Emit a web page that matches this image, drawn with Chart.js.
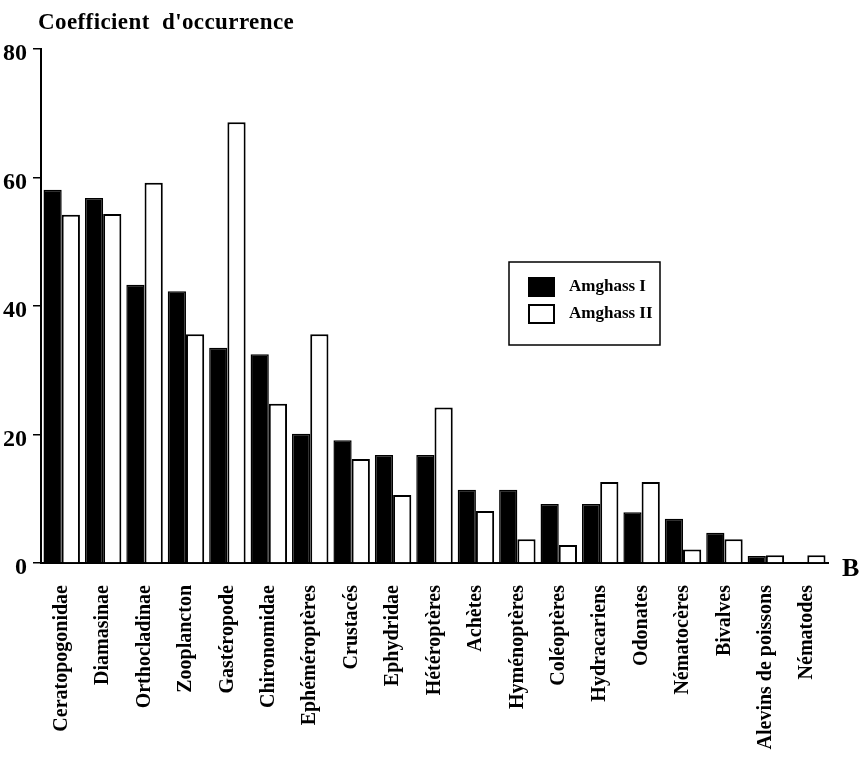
<!DOCTYPE html>
<html>
<head>
<meta charset="utf-8">
<script src="https://cdn.jsdelivr.net/npm/chart.js@4"></script>
<style>
  body { margin: 0; background: #fff; }
  #wrap { width: 864px; height: 760px; }
</style>
</head>
<body>
<div id="wrap"><canvas id="grafica"></canvas></div>
<script>
const categories = ['Ceratopogonidae', 'Diamasinae', 'Orthocladinae', 'Zooplancton', 'Gastéropode',
    'Chironomidae', 'Ephéméroptères', 'Crustacés', 'Ephydridae', 'Hétéroptères', 'Achètes',
    'Hyménoptères', 'Coléoptères', 'Hydracariens', 'Odonates', 'Nématocères', 'Bivalves',
    'Alevins de poissons', 'Nématodes'];
const amghass1 = [58.1, 56.8, 43.3, 42.3, 33.5, 32.5, 20.1, 19.1, 16.8, 16.8, 11.4, 11.4, 9.2, 9.2, 7.9, 6.9, 4.7, 1.1, 0];
const amghass2 = [54.2, 54.3, 59.2, 35.6, 68.6, 24.8, 35.6, 16.2, 10.6, 24.2, 8.1, 3.7, 2.8, 12.6, 12.6, 2.1, 3.7, 1.2, 1.2];
const yTicks = [0, 20, 40, 60, 80];

const serif = "'Liberation Serif', 'DejaVu Serif', serif";

// titre, lettre B et légende dessinés à la main
const decor = {
    id: 'decor',
    afterDraw(chart) {
        const ctx = chart.ctx;
        ctx.save();
        ctx.fillStyle = '#000';
        ctx.textBaseline = 'alphabetic';
        ctx.font = 'bold 23px ' + serif;
        ctx.letterSpacing = '0.4px';
        ctx.fillText("Coefficient  d'occurrence", 38, 29);
        ctx.letterSpacing = '0px';
        ctx.font = 'bold 26px ' + serif;
        ctx.fillText('B', 842, 576);

        // légende
        ctx.strokeStyle = '#000';
        ctx.lineWidth = 1.5;
        ctx.strokeRect(509, 262, 151, 83);
        const sets = chart.data.datasets;
        sets.forEach((ds, i) => {
            const y = 278 + i * 27;
            ctx.fillStyle = ds.backgroundColor;
            ctx.fillRect(529, y, 25, 18);
            ctx.lineWidth = 2;
            ctx.strokeRect(529, y, 25, 18);
            ctx.fillStyle = '#000';
            ctx.font = 'bold 17px ' + serif;
            ctx.textBaseline = 'middle';
            ctx.fillText(ds.label, 569, y + 9);
        });
        ctx.restore();
    }
};

new Chart(document.getElementById('grafica'), {
    type: 'bar',
    data: {
        labels: categories,
        datasets: [
            {
                label: 'Amghass I',
                data: amghass1,
                backgroundColor: '#000',
                borderColor: '#000',
                borderWidth: 1.5
            },
            {
                label: 'Amghass II',
                data: amghass2,
                backgroundColor: '#fff',
                borderColor: '#000',
                borderWidth: 2
            }
        ]
    },
    options: {
        responsive: true,
        maintainAspectRatio: false,
        animation: false,
        layout: { padding: { top: 49, right: 36, left: 0, bottom: 0 } },
        datasets: { bar: { categoryPercentage: 0.88, barPercentage: 1.0 } },
        plugins: {
            legend: false,
            tooltip: { enabled: false }
        },
        scales: {
            x: {
                grid: { display: false },
                border: { display: true, color: '#000', width: 2 },
                ticks: {
                    color: '#000',
                    font: { family: serif, size: 20, weight: 'bold' },
                    minRotation: 90,
                    maxRotation: 90,
                    autoSkip: false,
                    padding: 14
                },
                afterFit(scale) { scale.height = 197; }
            },
            y: {
                min: 0,
                max: 80,
                afterBuildTicks(scale) { scale.ticks = yTicks.map(v => ({ value: v })); },
                grid: { drawOnChartArea: false, drawTicks: true, tickLength: 8, color: '#000', lineWidth: 1.5 },
                border: { display: true, color: '#000', width: 2 },
                ticks: {
                    color: '#000',
                    font: { family: serif, size: 24, weight: 'bold' },
                    padding: 6,
                    labelOffset: 5
                },
                afterFit(scale) { scale.width = 41; }
            }
        }
    },
    plugins: [decor]
});
</script>
</body>
</html>
